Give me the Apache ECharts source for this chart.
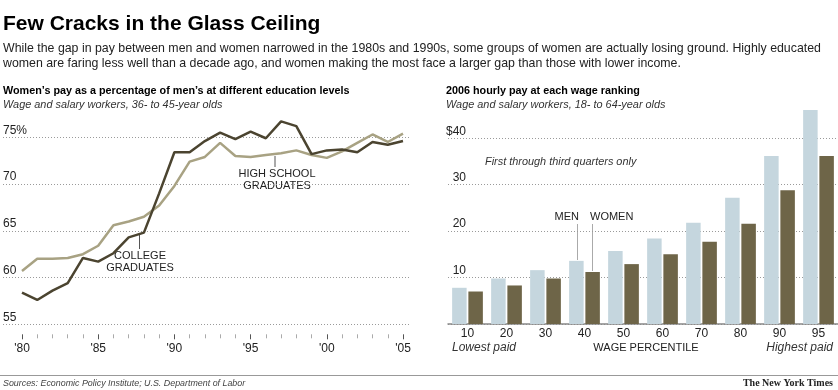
<!DOCTYPE html>
<html>
<head>
<meta charset="utf-8">
<script src="https://cdn.jsdelivr.net/npm/echarts@6/dist/echarts.min.js"></script>
<style>
html,body{margin:0;padding:0;background:#fff;}
#c{width:838px;height:390px;}
</style>
</head>
<body>
<div id="c"></div>
<script>
// ---- Data ----
var years = [1980,1981,1982,1983,1984,1985,1986,1987,1988,1989,1990,1991,1992,1993,1994,1995,1996,1997,1998,1999,2000,2001,2002,2003,2004,2005];
var collegeGrads = [58.4,57.6,58.6,59.4,62.1,61.7,62.6,64.3,64.8,69.0,73.4,73.4,74.6,75.5,74.8,75.6,74.9,76.7,76.2,73.2,73.6,73.7,73.4,74.5,74.2,74.6];
var highSchoolGrads = [60.7,62.0,62.0,62.1,62.5,63.4,65.6,66.0,66.5,67.7,69.8,72.4,72.9,74.4,73.0,72.9,73.1,73.3,73.6,73.1,72.8,73.5,74.4,75.3,74.5,75.4];
var lineTicks = [55,60,65,70,75];

var percentiles = ['10','20','30','40','50','60','70','80','90','95'];
var menPay = [7.8,9.8,11.6,13.6,15.7,18.4,21.8,27.2,36.2,46.1];
var womenPay = [7.0,8.3,9.8,11.2,12.9,15.0,17.7,21.6,28.8,36.2];
var barTicks = [0,10,20,30,40];

var DARK = '#4b4430', LIGHT = '#a8a283', MEN = '#c5d6de', WOMEN = '#6e6548';
var FONT = 'Liberation Sans, Arial, sans-serif';

function txt(x, y, s, opt) {
  opt = opt || {};
  return {
    type: 'text', x: x, y: y, silent: true,
    style: {
      text: s, fill: opt.fill || '#222',
      font: (opt.style || '') + ' ' + (opt.weight || 'normal') + ' ' + (opt.size || 11) + 'px ' + (opt.family || FONT),
      textAlign: opt.align || 'left', textVerticalAlign: 'middle'
    }
  };
}
function vline(x, y1, y2, color, w) {
  return { type: 'line', silent: true, shape: {x1: x, y1: y1, x2: x, y2: y2}, style: {stroke: color || '#777', lineWidth: w || 1} };
}

var chart = echarts.init(document.getElementById('c'), null, {renderer: 'canvas'});
var dotted = {show: true, lineStyle: {color: '#9a9a9a', type: [1, 2], width: 1}};

var option = {
  backgroundColor: '#fff',
  animation: false,
  grid: [
    {left: 3, top: 137.3, width: 407, height: 187},
    {left: 22, top: 137.3, width: 381, height: 187},
    {left: 448, top: 138.3, right: 0, height: 185.7}
  ],
  xAxis: [
    {gridIndex: 0, type: 'value', min: 0, max: 1, show: false},
    {gridIndex: 1, type: 'value', min: years[0], max: years[years.length - 1], interval: 5, offset: 10,
      axisLine: {show: false},
      axisTick: {show: true, length: 5, lineStyle: {color: '#555'}},
      minorTick: {show: true, splitNumber: 5, length: 4, lineStyle: {color: '#aaa'}},
      splitLine: {show: false},
      axisLabel: {margin: 8, color: '#222', fontSize: 12, fontFamily: FONT,
        formatter: function (v) { return "'" + String(v).slice(2); }}
    },
    {gridIndex: 2, type: 'category', data: percentiles,
      axisLine: {show: true, lineStyle: {color: '#888', width: 1.5}},
      axisTick: {show: false},
      axisLabel: {margin: 4, color: '#222', fontSize: 12, fontFamily: FONT}
    }
  ],
  yAxis: [
    {gridIndex: 0, type: 'value', min: lineTicks[0], max: lineTicks[lineTicks.length - 1], interval: 5,
      axisLine: {show: false}, axisTick: {show: false}, splitLine: dotted,
      axisLabel: {inside: true, margin: 0, align: 'left', verticalAlign: 'bottom', padding: [0, 0, 1, 0],
        color: '#222', fontSize: 12, fontFamily: FONT,
        formatter: function (v) { return v === 75 ? '75%' : String(v); }}
    },
    {gridIndex: 1, type: 'value', min: lineTicks[0], max: lineTicks[lineTicks.length - 1], show: false},
    {gridIndex: 2, type: 'value', min: barTicks[0], max: barTicks[barTicks.length - 1], interval: 10,
      axisLine: {show: false}, axisTick: {show: false}, splitLine: dotted,
      axisLabel: {inside: true, margin: 18, align: 'right', verticalAlign: 'bottom', padding: [0, 0, 1, 0],
        color: '#222', fontSize: 12, fontFamily: FONT,
        formatter: function (v) { return v === 0 ? '' : (v === 40 ? '$40' : String(v)); }}
    }
  ],
  series: [
    {type: 'line', name: 'High school graduates', xAxisIndex: 1, yAxisIndex: 1, clip: false,
      symbol: 'none', lineStyle: {color: LIGHT, width: 2.5}, itemStyle: {color: LIGHT},
      data: years.map(function (y, i) { return [y, highSchoolGrads[i]]; })},
    {type: 'line', name: 'College graduates', xAxisIndex: 1, yAxisIndex: 1, clip: false,
      symbol: 'none', lineStyle: {color: DARK, width: 2.5}, itemStyle: {color: DARK},
      data: years.map(function (y, i) { return [y, collegeGrads[i]]; })},
    {type: 'bar', name: 'Men', xAxisIndex: 2, yAxisIndex: 2, clip: false,
      barWidth: 14.5, barGap: '12%', itemStyle: {color: MEN}, data: menPay},
    {type: 'bar', name: 'Women', xAxisIndex: 2, yAxisIndex: 2, clip: false,
      barWidth: 14.5, barGap: '12%', itemStyle: {color: WOMEN}, data: womenPay}
  ],
  graphic: [
    txt(3, 24, 'Few Cracks in the Glass Ceiling', {weight: 'bold', size: 21, fill: '#000'}),
    txt(3, 48.5, 'While the gap in pay between men and women narrowed in the 1980s and 1990s, some groups of women are actually losing ground. Highly educated', {size: 12.35, fill: '#222'}),
    txt(3, 63.5, 'women are faring less well than a decade ago, and women making the most face a larger gap than those with lower income.', {size: 12.35, fill: '#222'}),

    txt(3, 91, "Women\u2019s pay as a percentage of men\u2019s at different education levels", {weight: 'bold', size: 10.8, fill: '#000'}),
    txt(3, 105, 'Wage and salary workers, 36- to 45-year olds', {style: 'italic', size: 10.9, fill: '#333'}),
    txt(446, 91, '2006 hourly pay at each wage ranking', {weight: 'bold', size: 10.8, fill: '#000'}),
    txt(446, 105, 'Wage and salary workers, 18- to 64-year olds', {style: 'italic', size: 10.9, fill: '#333'}),

    vline(275, 156, 167, '#555'),
    txt(277, 174, 'HIGH SCHOOL', {align: 'center', size: 11}),
    txt(277, 185.5, 'GRADUATES', {align: 'center', size: 11}),
    vline(139.5, 235, 249, '#555'),
    txt(140, 256, 'COLLEGE', {align: 'center', size: 11}),
    txt(140, 267.5, 'GRADUATES', {align: 'center', size: 11}),

    txt(485, 162, 'First through third quarters only', {style: 'italic', size: 10.9, fill: '#333'}),
    txt(579, 217, 'MEN', {align: 'right', size: 11}),
    txt(590, 217, 'WOMEN', {size: 11}),
    vline(577.5, 224, 260, '#aaa'),
    vline(592.5, 224, 271, '#aaa'),
    txt(452, 347.5, 'Lowest paid', {style: 'italic', size: 12, fill: '#333'}),
    txt(646, 347.5, 'WAGE PERCENTILE', {align: 'center', size: 11}),
    txt(833, 347.5, 'Highest paid', {style: 'italic', size: 12, align: 'right', fill: '#333'}),

    {type: 'line', silent: true, shape: {x1: 0, y1: 375.5, x2: 838, y2: 375.5}, style: {stroke: '#999', lineWidth: 1.2}},
    txt(3, 383.5, 'Sources: Economic Policy Institute; U.S. Department of Labor', {style: 'italic', size: 8.9, fill: '#444'}),
    txt(833, 383.5, 'The New York Times', {weight: 'bold', size: 10, align: 'right', family: 'Liberation Serif, serif', fill: '#222'})
  ]
};
chart.setOption(option);
</script>
</body>
</html>
